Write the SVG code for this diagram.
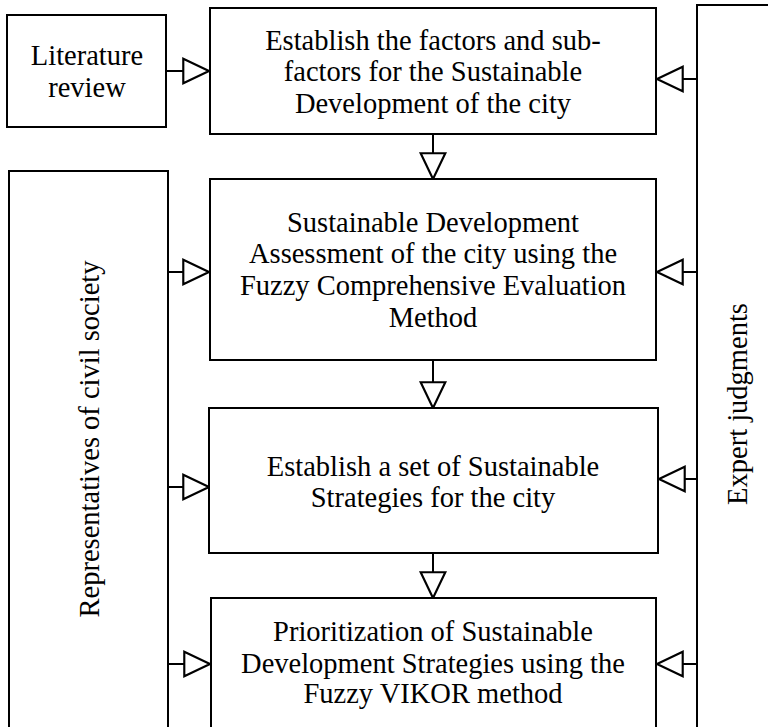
<svg xmlns="http://www.w3.org/2000/svg" width="768" height="727" viewBox="0 0 768 727">
  <style>
    .box { fill: #ffffff; stroke: #000000; stroke-width: 2; }
    .lbl { font-family: "Liberation Serif", "Times New Roman", serif; font-size: 28.5px; fill: #000000; text-anchor: middle; }
    .conn { stroke: #000000; stroke-width: 2; fill: none; marker-end: url(#open); }
  </style>
  <defs>
    <!-- open (white-filled) triangular arrowhead -->
    <marker id="open" markerUnits="userSpaceOnUse" markerWidth="30" markerHeight="30" viewBox="-2 -14 28 28" refX="24" refY="0" orient="auto">
      <path d="M0,-11.5 L24,0 L0,11.5 Z" fill="#ffffff" stroke="#000000" stroke-width="2" stroke-linejoin="miter"/>
    </marker>
  </defs>
  <rect width="768" height="727" fill="#ffffff"/>

  <!-- connectors -->
  <g id="connectors">
    <line class="conn" x1="166" y1="71" x2="209" y2="71"/>
    <line class="conn" x1="433" y1="134" x2="433" y2="179"/>
    <line class="conn" x1="433" y1="360" x2="433" y2="408"/>
    <line class="conn" x1="433" y1="553" x2="433" y2="598"/>
    <line class="conn" x1="168" y1="272" x2="209" y2="272"/>
    <line class="conn" x1="168" y1="487" x2="209" y2="487"/>
    <line class="conn" x1="168" y1="664" x2="210" y2="664"/>
    <line class="conn" x1="697" y1="79" x2="657" y2="79"/>
    <line class="conn" x1="697" y1="272" x2="657" y2="272"/>
    <line class="conn" x1="697" y1="479" x2="659" y2="479"/>
    <line class="conn" x1="697" y1="664" x2="657" y2="664"/>
  </g>

  <g id="literature">
    <rect class="box" x="7" y="15" width="159" height="112"/>
    <text class="lbl" x="87" y="65">Literature</text>
    <text class="lbl" x="87" y="97">review</text>
  </g>

  <g id="factors">
    <rect class="box" x="210" y="8" width="446" height="126"/>
    <text class="lbl" x="433" y="50">Establish the factors and sub-</text>
    <text class="lbl" x="433" y="81">factors for the Sustainable</text>
    <text class="lbl" x="433" y="113">Development of the city</text>
  </g>

  <g id="assessment">
    <rect class="box" x="210" y="179" width="446" height="181"/>
    <text class="lbl" x="433" y="232">Sustainable Development</text>
    <text class="lbl" x="433" y="263">Assessment of the city using the</text>
    <text class="lbl" x="433" y="295">Fuzzy Comprehensive Evaluation</text>
    <text class="lbl" x="433" y="327">Method</text>
  </g>

  <g id="strategies">
    <rect class="box" x="209" y="408" width="449" height="145"/>
    <text class="lbl" x="433" y="476">Establish a set of Sustainable</text>
    <text class="lbl" x="433" y="507">Strategies for the city</text>
  </g>

  <g id="prioritization">
    <rect class="box" x="211" y="598" width="445" height="160"/>
    <text class="lbl" x="433" y="641">Prioritization of Sustainable</text>
    <text class="lbl" x="433" y="673">Development Strategies using the</text>
    <text class="lbl" x="433" y="703">Fuzzy VIKOR method</text>
  </g>

  <g id="civil-society">
    <rect class="box" x="9" y="171" width="159" height="590"/>
    <text class="lbl" transform="translate(99,439) rotate(-90)">Representatives of civil society</text>
  </g>

  <g id="experts">
    <rect class="box" x="697" y="5" width="90" height="760"/>
    <text class="lbl" transform="translate(747,404) rotate(-90)">Expert judgments</text>
  </g>
</svg>
